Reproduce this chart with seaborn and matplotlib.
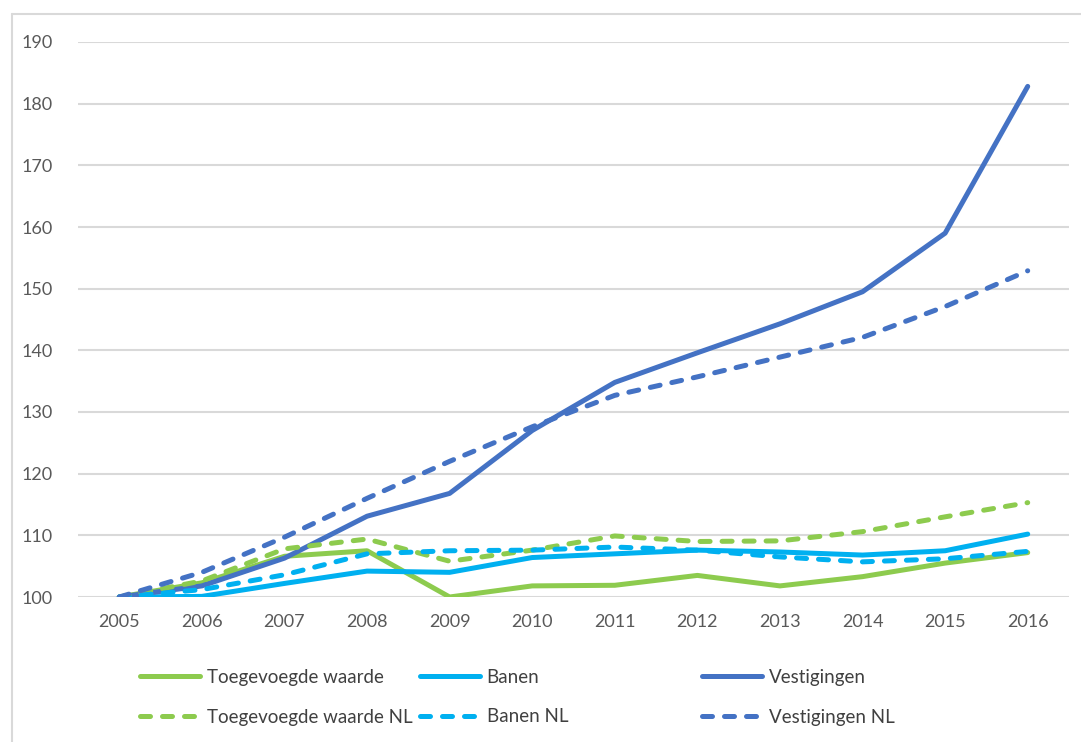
import matplotlib
matplotlib.use("Agg")
import matplotlib.pyplot as plt
import seaborn as sns
import pandas as pd
from matplotlib.lines import Line2D

years = ["2005", "2006", "2007", "2008", "2009", "2010", "2011", "2012", "2013", "2014", "2015", "2016"]

toegevoegde_waarde = [100, 102.3, 106.6, 107.5, 100.0, 101.8, 101.9, 103.5, 101.8, 103.3, 105.5, 107.2]
banen = [100, 100.1, 102.2, 104.2, 104.0, 106.4, 107.0, 107.6, 107.3, 106.8, 107.5, 110.2]
vestigingen = [100, 101.8, 106.3, 113.1, 116.8, 127.0, 134.8, 139.6, 144.3, 149.5, 159.0, 182.8]
toegevoegde_waarde_nl = [100, 102.6, 107.8, 109.4, 105.8, 107.6, 109.9, 109.0, 109.1, 110.6, 113.0, 115.3]
banen_nl = [100, 101.2, 103.6, 107.0, 107.5, 107.6, 108.1, 107.6, 106.5, 105.7, 106.2, 107.4]
vestigingen_nl = [100, 104.0, 109.7, 116.0, 122.0, 127.6, 132.7, 135.7, 138.9, 142.1, 147.1, 152.9]

series_names = ["Toegevoegde waarde", "Banen", "Vestigingen",
                "Toegevoegde waarde NL", "Banen NL", "Vestigingen NL"]
series_values = [toegevoegde_waarde, banen, vestigingen,
                 toegevoegde_waarde_nl, banen_nl, vestigingen_nl]

GREEN = "#8DCB4E"
CYAN = "#00B0F0"
BLUE = "#4472C4"
colors = [GREEN, CYAN, BLUE, GREEN, CYAN, BLUE]
dashed = [False, False, False, True, True, True]
DASH = (2.0, 2.4)

sns.set_theme(style="white")
plt.rcParams["font.family"] = ["Lato", "DejaVu Sans"]

fig = plt.figure(figsize=(10.81, 7.42), dpi=100)
ax = fig.add_axes([78 / 1081, 1 - 597 / 742, 991 / 1081, 555 / 742])

LW = 3.6
for name, vals, c, d in zip(series_names, series_values, colors, dashed):
    df = pd.DataFrame({"x": range(len(years)), "y": vals})
    sns.lineplot(data=df, x="x", y="y", ax=ax, color=c, linewidth=LW,
                 legend=False, zorder=3 if not d else 4)
    line = ax.lines[-1]
    if d:
        line.set_dashes(DASH)
        line.set_dash_capstyle("round")
    else:
        line.set_solid_capstyle("round")
    line.set_solid_joinstyle("round")
    line.set_dash_joinstyle("round")

ax.set_xlim(-0.5, len(years) - 0.5)
ax.set_ylim(100, 190)
ax.set_yticks(range(100, 191, 10))
ax.set_xticks(range(len(years)))
ax.set_xticklabels(years)
ax.set_xlabel("")
ax.set_ylabel("")
ax.grid(axis="y", color="#D9D9D9", linewidth=1.5)
ax.grid(axis="x", visible=False)
for s in ax.spines.values():
    s.set_visible(False)
ax.tick_params(axis="both", length=0, labelsize=13, colors="#595959")
ax.tick_params(axis="y", pad=18)
ax.tick_params(axis="x", pad=12)
ax.set_axisbelow(True)

# chart frame (top and left border)
fig.add_artist(Line2D([12 / 1081, 1.0], [1 - 14 / 742, 1 - 14 / 742],
                      transform=fig.transFigure, color="#D9D9D9", linewidth=1.5))
fig.add_artist(Line2D([12 / 1081, 12 / 1081], [0, 1 - 14 / 742],
                      transform=fig.transFigure, color="#D9D9D9", linewidth=1.5))

# legend: three columns positioned like the original
col_x = [140, 420, 702]
for ci in range(3):
    handles = []
    labels = []
    for idx in (ci, ci + 3):
        h = Line2D([], [], color=colors[idx], linewidth=LW)
        if dashed[idx]:
            h.set_dashes(DASH)
            h.set_dash_capstyle("round")
        else:
            h.set_solid_capstyle("round")
        handles.append(h)
        labels.append(series_names[idx])
    leg = fig.legend(handles, labels, loc="upper left",
                     bbox_to_anchor=(col_x[ci] / 1081, 1 - 669 / 742),
                     frameon=False, fontsize=13.5, handlelength=3.2,
                     handletextpad=0.35, labelspacing=1.2, borderpad=0,
                     borderaxespad=0, labelcolor="#404040")

fig.savefig("out.png", dpi=100)
